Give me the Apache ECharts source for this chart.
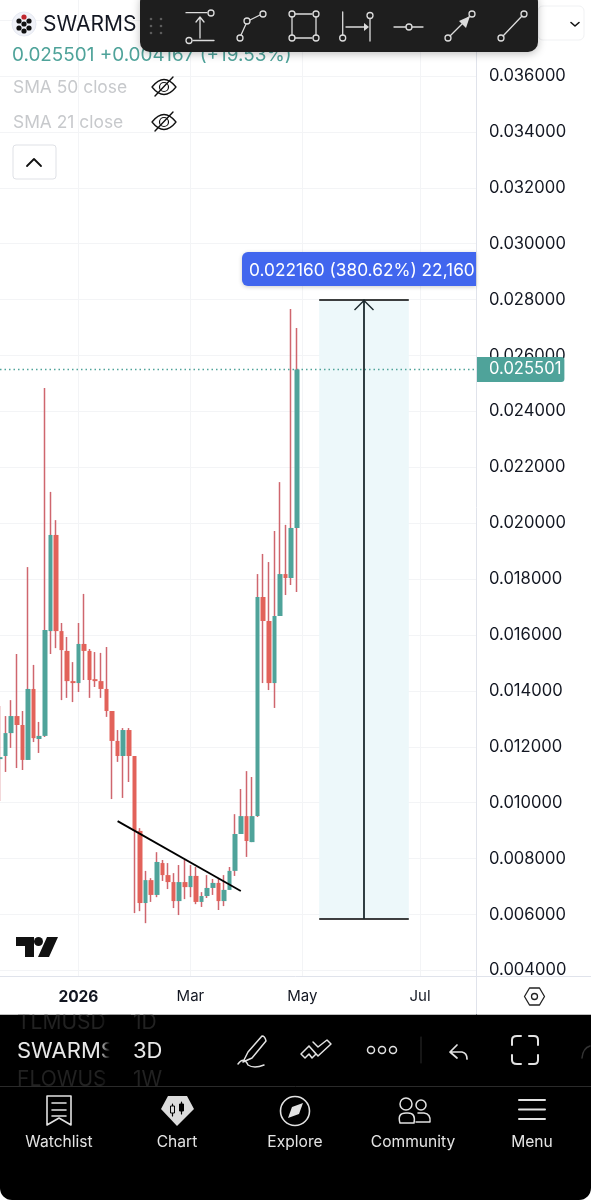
<!DOCTYPE html>
<html><head><meta charset="utf-8">
<style>html,body{margin:0;padding:0;background:#fff}#c{width:591px;height:1200px}</style>
<script src="https://cdn.jsdelivr.net/npm/echarts@6/dist/echarts.min.js"></script>
</head><body><div id="c"></div>
<script>
// 3-day SWARMS candles
const opens  = [.01156,.01167,.01249,.01310,.01278,.01153,.01407,.01228,.01239,.01614,.01958,.01614,.01543,.01435,.01428,.01568,.01543,.01442,.01435,.01407,.01328,.01221,.01167,.01260,.01167,.00899,.00641,.00723,.00670,.00784,.00741,.00716,.00648,.00716,.00698,.00738,.00645,.00666,.00695,.00713,.00648,.00688,.00756,.00888,.00952,.00859,.00952,.01736,.01650,.01428,.01668,.01818,.01804,.01983];
const closes = [.01163,.01249,.01310,.01278,.01153,.01407,.01231,.01239,.01618,.01958,.01614,.01546,.01435,.01428,.01568,.01543,.01439,.01435,.01407,.01328,.01221,.01167,.01260,.01167,.00899,.00641,.00723,.00670,.00788,.00741,.00716,.00648,.00716,.00698,.00738,.00645,.00666,.00695,.00713,.00648,.00688,.00756,.00888,.00952,.00863,.00952,.01736,.01650,.01428,.01668,.01818,.01804,.01983,.025501];
const lows   = [.01006,.01110,.01196,.01124,.01117,.01153,.01217,.01178,.01235,.01532,.01553,.01367,.01375,.01360,.01396,.01439,.01375,.01414,.01375,.01307,.01013,.01146,.01017,.01074,.00605,.00612,.00569,.00645,.00662,.00720,.00691,.00623,.00598,.00655,.00662,.00637,.00627,.00659,.00670,.00616,.00630,.00688,.00738,.00888,.00806,.00859,.00949,.01428,.01403,.01339,.01668,.01743,.01779,.01754];
const highs  = [.01346,.01310,.01367,.01532,.01328,.01843,.01493,.01289,.02484,.02112,.02011,.01643,.01593,.01503,.01643,.01747,.01550,.01539,.01536,.01557,.01328,.01260,.01267,.01267,.01167,.00909,.00756,.00730,.00823,.00795,.00784,.00748,.00777,.00795,.00777,.00770,.00680,.00741,.00727,.00727,.00741,.00770,.00959,.01049,.01113,.01092,.01818,.01890,.01861,.01972,.02147,.01994,.02766,.02698];

const barCount = 86;
const firstBar = new Date(Date.UTC(2025, 10, 19));
const categories = [];
for (let i = 0; i < barCount; i++) categories.push(new Date(firstBar.getTime() + i * 3 * 864e5).toISOString().slice(0, 10));
const tickBars = [14, 34, 54, 75];
const tickLabels = ['2026', 'Mar', 'May', 'Jul'];

const priceTicks = {min: .004, max: .038, step: .002};
const lastPrice = .025501;
const measureTop = .028, measureBottom = .00584;
const measureBars = [57, 73], measureMid = 65;
const trendBars = [21, 43], trendPrices = [.00934, .00684];

const UP = '#4fa39a', DOWN = '#e2625a', WICK = '#cf666e', GRID = '#f3f4f6', AXIS = '#e0e3eb', INK = '#131722';
const FONT = 'Inter, "Noto Sans", sans-serif';

const wickData = opens.map((o, i) => [o, closes[i], lows[i], highs[i]]);
const bodyData = opens.map((o, i) => [o, closes[i], Math.min(o, closes[i]), Math.max(o, closes[i])]);

// --- interface chrome helpers ---
const gfx = [];
const Z = 100;
let pathId = 0;
function R(x, y, w, h, fill, r, stroke, extra) { gfx.push(Object.assign({type:'rect', z:Z, shape:{x, y, width:w, height:h, r:r||0}, style:{fill:fill, stroke:stroke||null, lineWidth:stroke?1:0}, silent:true}, extra||{})); }
function T(x, y, text, size, fill, opt) { opt = opt||{}; gfx.push({type:'text', z:Z, silent:true, style:{x, y:y+1, text, fill, font:(opt.weight||400)+' '+size+'px '+FONT, textAlign:opt.align||'left', textVerticalAlign:'middle'}}); }
function P(d, stroke, w, fill) {
  const name = 'uiPath' + (pathId++);
  echarts.graphic.registerShape(name, echarts.graphic.extendPath(d));
  gfx.push({type:name, z:Z, silent:true, style:{stroke:stroke||null, lineWidth:w||0, fill:fill||'none', lineCap:'round', lineJoin:'round'}});
}
function C(x, y, r, stroke, w, fill) { gfx.push({type:'circle', z:Z, silent:true, shape:{cx:x, cy:y, r}, style:{stroke:stroke||null, lineWidth:w||0, fill:fill||'none'}}); }

// panel borders
P('M0 976.5H591', AXIS, 1);
P('M476.5 0V1015', AXIS, 1);
// header
C(24, 24, 12, '#e6e9f2', 1, '#f0f2f8');
[[19,21],[24,17],[29,21],[19,28],[24,31],[29,28],[24,24]].forEach((p,i)=>C(p[0],p[1],2.6,null,0,i===1?'#c0272d':'#111'));
T(43, 24, 'SWARMS', 21, INK);
T(12, 54.5, '0.025501 +0.004167 (+19.53%)', 18.9, UP);
T(13, 87, 'SMA 50 close', 17.4, '#c7c9cc');
T(13, 122, 'SMA 21 close', 17.4, '#c7c9cc');
[87, 122].forEach(y => {
  P(`M152 ${y} Q164 ${y-15} 176 ${y} Q164 ${y+15} 152 ${y}Z`, '#111', 1.3);
  C(164, y, 4.5, '#111', 1.2);
  P(`M155 ${y+9}L173 ${y-10}`, '#111', 1.4);
});
R(13, 145, 43, 34, '#fff', 3, '#dfe1e6');
P('M27 166L34 159L41 166', '#111', 1.8);
R(538, 6, 46, 34, '#fff', 5, '#f0f1f3');
P('M571 22.5L575 26L579 22.5', '#111', 1.6);
// drawing toolbar
gfx.push({type:'rect', z:Z, silent:true, shape:{x:140, y:-8, width:398, height:60, r:10}, style:{fill:'#1e1e1e', shadowBlur:8, shadowColor:'rgba(0,0,0,.25)', shadowOffsetY:2}});
[[151,19],[161,19],[151,26],[161,26],[151,33],[161,33]].forEach(p=>C(p[0],p[1],1.3,null,0,'#5c5c5c'));
const TI = '#dcdcdc';
P('M186 12.7H207 M193 40.5H214 M200 38V18 M196 22L200 17L204 22', TI, 1.3); C(211,13,3,TI,1.3); C(189,40.5,3,TI,1.3);
P('M241 35L246 24 M250 20L260 15', TI, 1.3); C(240,38,3,TI,1.3); C(247,21,3,TI,1.3); C(263,14,3,TI,1.3);
P('M295 14H312 M295 38H312 M292 17V35 M316 17V35', TI, 1.3); [[292,14],[316,14],[292,38],[316,38]].forEach(p=>C(p[0],p[1],3,TI,1.3));
P('M342.7 12V35 M346 27H366 M370 19V41', TI, 1.3); P('M364 23L369 27L364 31Z', null, 0, TI); C(342.7,38,3,TI,1.3); C(370,15.5,3,TI,1.3);
P('M394 27H406 M412 27H423', TI, 1.3); C(409,27,3,TI,1.3);
P('M450 36L469 17', TI, 1.3); P('M459 21L470 16L466 28Z', null, 0, TI); C(448,38,3,TI,1.3); C(472,14,3,TI,1.3);
P('M503 36L522 16', TI, 1.3); C(501,38,3,TI,1.3); C(524,14,3,TI,1.3);
// measure tool readout
gfx.push({type:'rect', z:Z, silent:true, shape:{x:242, y:252, width:234, height:34, r:[6,0,0,6]}, style:{fill:'#4166ee', shadowBlur:4, shadowColor:'rgba(0,0,0,.2)', shadowOffsetY:1}});
T(249, 269.5, '0.022160 (380.62%) 22,160', 17.3, '#fff');
// TradingView mark
P('M16 937H34V957H25V946H16Z M47 937H58L49 957H38Z', null, 0, '#111'); C(38.5,941.5,4.5,null,0,'#111');
// settings hexagon
P('M524.5 996.5L529.5 988H539.5L544.5 996.5L539.5 1005H529.5Z', '#222', 1.3); C(534.5,996.5,3,'#222',1.3);
// bottom black panel
gfx.push({type:'rect', z:Z, silent:true, shape:{x:0, y:1014.5, width:591, height:185.5, r:[0,0,12,12]}, style:{fill:'#000'}});
T(17, 1022, 'TLMUSD', 21, '#222222'); T(133, 1022, '1D', 21, '#222222');
T(17, 1079, 'FLOWUS', 21, '#222222'); T(133, 1079, '1W', 21, '#222222');
T(17, 1050, 'SWARMS', 22, '#e8e8e8');
gfx.push({type:'rect', z:Z, silent:true, shape:{x:100, y:1014.5, width:14, height:72}, style:{fill:new echarts.graphic.LinearGradient(0,0,1,0,[{offset:0,color:'rgba(0,0,0,0)'},{offset:.7,color:'#000'}])}});
R(114, 1014.5, 17, 72, '#000');
T(133, 1050, '3D', 22, '#e8e8e8');
R(0, 1006, 476, 8.5, '#fff');
R(477, 1006, 114, 8.5, '#fff');
P('M0 1086.5H591', '#2a2a2a', 1);
const IC = '#e2e2e2';
P('M262 1036L248 1052L243 1062L252 1058L266 1041Q265 1036 262 1036Z M238 1064Q244 1056 248 1065Q254 1069 264 1065', IC, 1.5);
P('M301 1054L309 1046L316 1054L312 1058L309 1054L305 1058Z M313 1042L318 1047L327 1040L331 1044L318 1056L309 1046', IC, 1.5);
C(371,1050,3.5,IC,1.5); C(382,1050,3.5,IC,1.5); C(393,1050,3.5,IC,1.5);
P('M421 1037V1063', '#2c2c2c', 1);
P('M450 1052L457 1045 M450 1052L457 1058 M451 1052H462Q467 1053 467 1059', IC, 1.7);
P('M512 1045V1040Q512 1036 517 1036H521 M529 1036H534Q538 1036 538 1040V1045 M538 1055V1060Q538 1064 534 1064H529 M521 1064H517Q512 1064 512 1060V1055', IC, 2);
P('M582 1058Q583 1048 590 1046', '#333', 1.5);
// tab bar
P('M47 1096H71V1125L59 1118L47 1125Z M52 1103H66 M52 1110H66 M52 1116H66', IC, 1.6);
P('M168 1096H187L194 1109L177 1126L161 1109Z', null, 0, '#dcdcdc');
P('M172.5 1104V1116 M181.5 1102V1114', '#000', 1.2); R(170.5, 1106, 4, 7, '#dcdcdc', 0, '#000'); R(179.5, 1104, 4, 7, '#000', 0, '#000');
C(295,1111,14.5,IC,1.6); P('M288 1118L292 1107L303 1103L299 1114Z', null, 0, IC);
C(406,1104,6,IC,1.5); C(421,1105,5,IC,1.5);
P('M400 1123Q397 1113 406 1113H408Q416 1113 414 1123Z M418 1113H424Q431 1114 430 1122H416', IC, 1.5);
P('M519 1100H545 M519 1109.5H545 M519 1119H545', IC, 2);
[['Watchlist',59],['Chart',177],['Explore',295],['Community',413],['Menu',532]].forEach(t=>T(t[1],1141,t[0],15.6,'#e4e4e4',{align:'center',weight:400}));

const chevron = 'path://M10 -11L10.02 -11Z M10 0L20 10L19 11L10 2L1 11L0 10Z';
const black = {color:'#000', width:1.5, type:'solid'};
const option = {
  animation:false,
  backgroundColor:'#fff',
  grid:[
    {left:-0.5, width:476.5, top:20.1, height:950.3},
    {left:-0.5, width:476.5, top:0, height:976}
  ],
  xAxis:[
    {type:'category', gridIndex:0, data:categories, boundaryGap:false, show:false},
    {type:'category', gridIndex:1, data:categories, boundaryGap:false,
      axisLine:{show:false}, axisTick:{show:false},
      splitLine:{show:true, interval:(i)=>tickBars.includes(i), lineStyle:{color:GRID, width:1}},
      axisLabel:{show:true, interval:(i)=>tickBars.includes(i), margin:13,
        formatter:(v,i)=>{const k=tickBars.indexOf(i); return k<0?'':(tickLabels[k]==='2026'?'{b|2026}':tickLabels[k]);},
        color:INK, fontFamily:FONT, fontSize:15,
        rich:{b:{fontWeight:700, fontSize:15.5, color:INK, fontFamily:FONT}}}}
  ],
  yAxis:[
    {type:'value', gridIndex:0, position:'right', min:priceTicks.min, max:priceTicks.max, interval:priceTicks.step,
      axisLine:{show:false}, axisTick:{show:false},
      splitLine:{show:true, lineStyle:{color:GRID, width:1}},
      axisLabel:{margin:13, color:INK, fontFamily:FONT, fontSize:16.6, padding:[5,0,0,0],
        formatter:(v)=>v>.037?'':v.toFixed(6)}},
    {type:'value', gridIndex:1, show:false, min:0, max:1}
  ],
  series:[
    {type:'candlestick', name:'Wicks', xAxisIndex:0, yAxisIndex:0, barWidth:1, data:wickData, z:3,
      itemStyle:{color:WICK, color0:WICK, borderColor:WICK, borderColor0:WICK, borderWidth:1.5}, silent:true,
      markArea:{silent:true, itemStyle:{color:'#edf8fa'}, data:[[
        {coord:[categories[measureBars[0]], measureTop]},
        {coord:[categories[measureBars[1]], measureBottom]}
      ]]},
      markLine:{silent:true, symbol:'none', animation:false, data:[
        [{coord:[categories[0], lastPrice], lineStyle:{color:UP, type:[1.5,3], width:1.4},
          label:{show:true, position:'end', distance:0, formatter:lastPrice.toFixed(6), color:'#fff', backgroundColor:UP,
            padding:[4,3,4,13], borderRadius:[0,3,3,0], fontFamily:FONT, fontSize:16.6}},
         {coord:[categories[barCount-1], lastPrice]}],
        [{coord:[categories[measureBars[0]], measureTop], lineStyle:black, label:{show:false}}, {coord:[categories[measureBars[1]], measureTop]}],
        [{coord:[categories[measureBars[0]], measureBottom], lineStyle:black, label:{show:false}}, {coord:[categories[measureBars[1]], measureBottom]}],
        [{coord:[categories[measureMid], measureBottom], lineStyle:{color:'#1c2a2e', width:1.8, type:'solid'}, label:{show:false}, symbol:'none'},
         {coord:[categories[measureMid], measureTop], symbol:chevron, symbolSize:[20,22]}],
        [{coord:[categories[trendBars[0]], trendPrices[0]], lineStyle:{color:'#000', width:1.8, type:'solid'}, label:{show:false}},
         {coord:[categories[trendBars[1]], trendPrices[1]]}]
      ]}},
    {type:'candlestick', name:'SWARMS 3D', xAxisIndex:0, yAxisIndex:0, barWidth:5, data:bodyData, z:4, silent:true,
      itemStyle:{color:UP, color0:DOWN, borderColor:UP, borderColor0:DOWN, borderWidth:0}}
  ],
  graphic:{elements:gfx}
};
const chart = echarts.init(document.getElementById('c'), null, {renderer:'canvas', width:591, height:1200});
chart.setOption(option);
</script></body></html>
